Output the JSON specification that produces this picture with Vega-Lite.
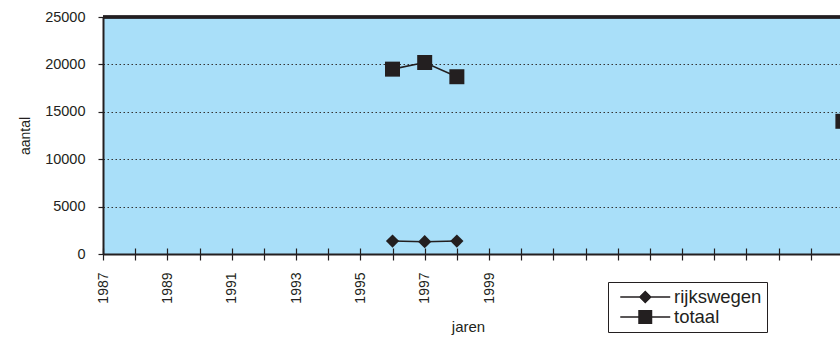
{
  "$schema": "https://vega.github.io/schema/vega-lite/v6.json",
  "width": 737,
  "height": 237,
  "autosize": {"type": "none"},
  "padding": {"left": 103, "top": 17, "right": 0, "bottom": 83},
  "background": "white",
  "config": {
    "view": {"fill": "#a9dff9", "stroke": null},
    "font": "Liberation Sans"
  },
  "data": {
    "values": [
      {"jaar": 1996, "serie": "rijkswegen", "aantal": 1370},
      {"jaar": 1997, "serie": "rijkswegen", "aantal": 1300},
      {"jaar": 1998, "serie": "rijkswegen", "aantal": 1370},
      {"jaar": 1996, "serie": "totaal", "aantal": 19500},
      {"jaar": 1997, "serie": "totaal", "aantal": 20200},
      {"jaar": 1998, "serie": "totaal", "aantal": 18700},
      {"jaar": 2010, "serie": "totaal", "aantal": 14000}
    ]
  },
  "layer": [
    {
      "mark": {"type": "rule", "color": "#231f20", "strokeWidth": 2.5},
      "encoding": {"y": {"datum": 25000, "type": "quantitative"}}
    },
    {
      "transform": [{"filter": {"field": "jaar", "lte": 1998}}],
      "mark": {"type": "line", "color": "#231f20", "strokeWidth": 1.6},
      "encoding": {
        "x": {
          "field": "jaar", "type": "quantitative",
          "scale": {"domain": [1987, 2009.91], "nice": false, "zero": false},
          "axis": {
            "orient": "bottom",
            "offset": -6,
            "values": [1987,1988,1989,1990,1991,1992,1993,1994,1995,1996,1997,1998,1999,2000,2001,2002,2003,2004,2005,2006,2007,2008,2009],
            "labels": false, "domain": false, "title": null, "grid": false,
            "tickSize": 6, "tickColor": "#231f20", "tickWidth": 1.2
          }
        },
        "y": {"field": "aantal", "type": "quantitative"},
        "detail": {"field": "serie"}
      }
    },
    {
      "transform": [{"filter": {"field": "serie", "equal": "rijkswegen"}}],
      "mark": {"type": "point", "filled": true, "opacity": 1, "color": "#231f20", "size": 175, "shape": "diamond"},
      "encoding": {
        "x": {
          "field": "jaar", "type": "quantitative",
          "scale": {"domain": [1987, 2009.91], "nice": false, "zero": false},
          "axis": {
            "orient": "bottom",
            "title": "jaren",
            "values": [1987,1988,1989,1990,1991,1992,1993,1994,1995,1996,1997,1998,1999,2000,2001,2002,2003,2004,2005,2006,2007,2008,2009],
            "format": "d",
            "labelExpr": "datum.value <= 1999 && datum.value % 2 == 1 ? datum.label : ''",
            "labelAngle": 270,
            "labelFontSize": 14,
            "labelColor": "#231f20",
            "labelPadding": 12,
            "labelOverlap": false,
            "labelFlush": false,
            "tickSize": 6,
            "tickWidth": 1.2,
            "tickColor": "#231f20",
            "domainColor": "#231f20",
            "domainWidth": 2,
            "grid": false,
            "titleFontSize": 15,
            "titleFontWeight": "normal",
            "titleColor": "#231f20",
            "titleX": 365,
            "titleY": 77,
            "titleBaseline": "alphabetic"
          }
        },
        "y": {
          "field": "aantal", "type": "quantitative",
          "scale": {"domain": [0, 25000], "nice": false},
          "axis": {
            "title": "aantal",
            "format": "d",
            "values": [0, 5000, 10000, 15000, 20000, 25000],
            "grid": true,
            "gridDash": [1.5, 2.5],
            "gridColor": "#333333",
            "gridWidth": 1,
            "domainColor": "#231f20",
            "domainWidth": 2,
            "tickColor": "#231f20",
            "tickSize": 5,
            "tickWidth": 1.2,
            "labelFontSize": 14.5,
            "labelColor": "#231f20",
            "labelPadding": 13,
            "titleFontSize": 14,
            "titleFontWeight": "normal",
            "titleColor": "#231f20",
            "titleAngle": 270,
            "titleX": -74,
            "titleY": 118.5,
            "titleBaseline": "alphabetic"
          }
        }
      }
    },
    {
      "transform": [{"filter": {"field": "serie", "equal": "totaal"}}],
      "mark": {"type": "point", "filled": true, "opacity": 1, "color": "#231f20", "size": 225, "shape": "square"},
      "encoding": {
        "x": {"field": "jaar", "type": "quantitative", "axis": null},
        "y": {"field": "aantal", "type": "quantitative"}
      }
    },
    {
      "mark": {"type": "point", "filled": true, "color": "#231f20", "opacity": 1, "size": 0},
      "encoding": {
        "x": {"field": "jaar", "type": "quantitative", "axis": null},
        "y": {"field": "aantal", "type": "quantitative"},
        "shape": {
          "field": "serie", "type": "nominal",
          "scale": {
            "domain": ["rijkswegen", "totaal"],
            "range": ["M-3.57,-0.11H3.57V0.11H-3.57ZM-0.93,0L0,-0.93L0.93,0L0,0.93Z", "M-3.57,-0.11H3.57V0.11H-3.57ZM-1,-1H1V1H-1Z"]
          },
          "legend": {
            "title": null,
            "orient": "none",
            "legendX": 505,
            "legendY": 265,
            "padding": 5,
            "strokeColor": "#231f20",
            "fillColor": "white",
            "symbolSize": 196,
            "symbolFillColor": "#231f20",
            "symbolOpacity": 1,
            "symbolOffset": 23,
            "labelOffset": 19.5,
            "labelFontSize": 18.5,
            "labelColor": "#231f20",
            "rowPadding": 0,
            "clipHeight": 20
          }
        }
      }
    }
  ],
  "resolve": {"axis": {"x": "independent"}}
}
